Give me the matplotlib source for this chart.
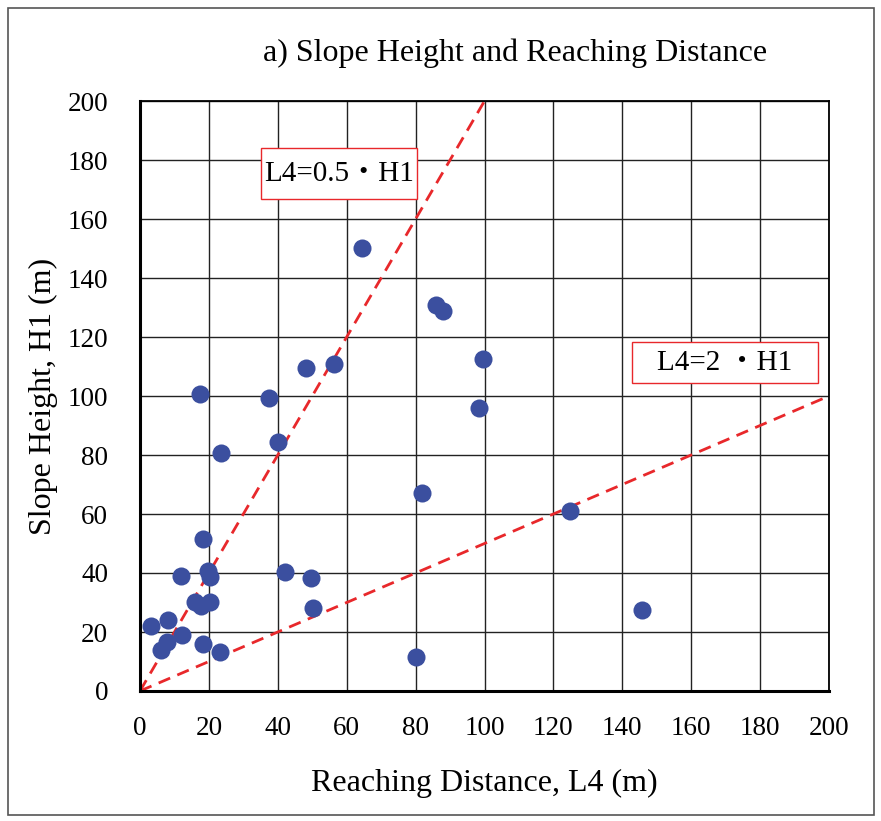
import numpy as np
import matplotlib
matplotlib.use("Agg")
from matplotlib import pyplot as plt
from matplotlib.patches import Rectangle

plt.rcParams["font.family"] = ["Liberation Serif", "Noto Sans CJK JP"]

# reaching distance L4 (m) and slope height H1 (m)
l4 = [64.5, 86, 88, 99.6, 98.4, 48.2, 56.3, 17.5, 37.4, 40.1, 23.5, 81.9, 124.8,
      18.2, 12, 19.6, 20.2, 42.1, 49.6, 50.2, 145.7, 80.1, 3.2, 8.0, 16.0, 17.8,
      20.2, 12.2, 7.8, 6.1, 18.2, 23.2]
h1 = [150.2, 130.8, 128.8, 112.6, 95.8, 109.6, 110.7, 100.8, 99.3, 84.4, 80.8, 67, 61,
      51.4, 39, 40.7, 38.7, 40.2, 38.3, 28.1, 27.5, 11.5, 22.2, 24.0, 30.1, 28.9,
      30.2, 19.1, 16.5, 14.0, 16.0, 13.2]

x_ticks = np.arange(0, 201, 20)
y_ticks = np.arange(0, 201, 20)

fig = plt.figure(figsize=(8.81, 8.21), dpi=100)
ax = fig.add_axes([140 / 881, 1 - 691 / 821, 689 / 881, 590 / 821])

# reference lines L4 = 0.5*H1 and L4 = 2*H1
line_x = np.array([0, 200])
ax.plot(line_x * 0.5, line_x, color="#e8282b", lw=2.0, dashes=(4.5, 2.8), zorder=2)
ax.plot(line_x, line_x * 0.5, color="#e8282b", lw=2.0, dashes=(4.5, 2.8), zorder=2)

ax.plot(l4, h1, "o", color="#3b4f9f", markersize=13, markeredgewidth=0, zorder=3)

ax.set_xlim(0, 200)
ax.set_ylim(0, 200)
ax.set_xticks(x_ticks)
ax.set_yticks(y_ticks)
ax.grid(True, color="#222222", lw=1.0)
ax.set_axisbelow(True)
ax.tick_params(length=0, labelsize=19.5)
ax.tick_params(axis="x", pad=18)
ax.tick_params(axis="y", pad=23)
for s in ax.spines.values():
    s.set_linewidth(1.3)
ax.spines["left"].set_linewidth(2.2)
ax.spines["bottom"].set_linewidth(2.2)

ax.set_xlabel("Reaching Distance, L4 (m)", fontsize=23, labelpad=20)
ax.set_ylabel("Slope Height, H1 (m)", fontsize=23, labelpad=7)

fig.text(515 / 881, 1 - 53 / 821, "a) Slope Height and Reaching Distance",
         fontsize=23, ha="center", va="center")

# label boxes for the two reference lines
ax.add_patch(Rectangle((35.1, 166.8), 45.3, 17.3, fc="white", ec="#e8282b",
                       lw=1.0, zorder=4))
ax.text(57.8, 175.3, "L4=0.5・H1", fontsize=21, ha="center", va="center", zorder=5)
ax.add_patch(Rectangle((142.8, 104.4), 54.0, 13.9, fc="white", ec="#e8282b",
                       lw=1.0, zorder=4))
ax.text(169.8, 111.3, "L4=2 ・H1", fontsize=21, ha="center", va="center", zorder=5)

fig.patches.append(Rectangle((8 / 881, 6 / 821), 866 / 881, 807 / 821,
                             transform=fig.transFigure, fill=False,
                             ec="#555555", lw=1.2))

fig.savefig("out.png", dpi=100)
